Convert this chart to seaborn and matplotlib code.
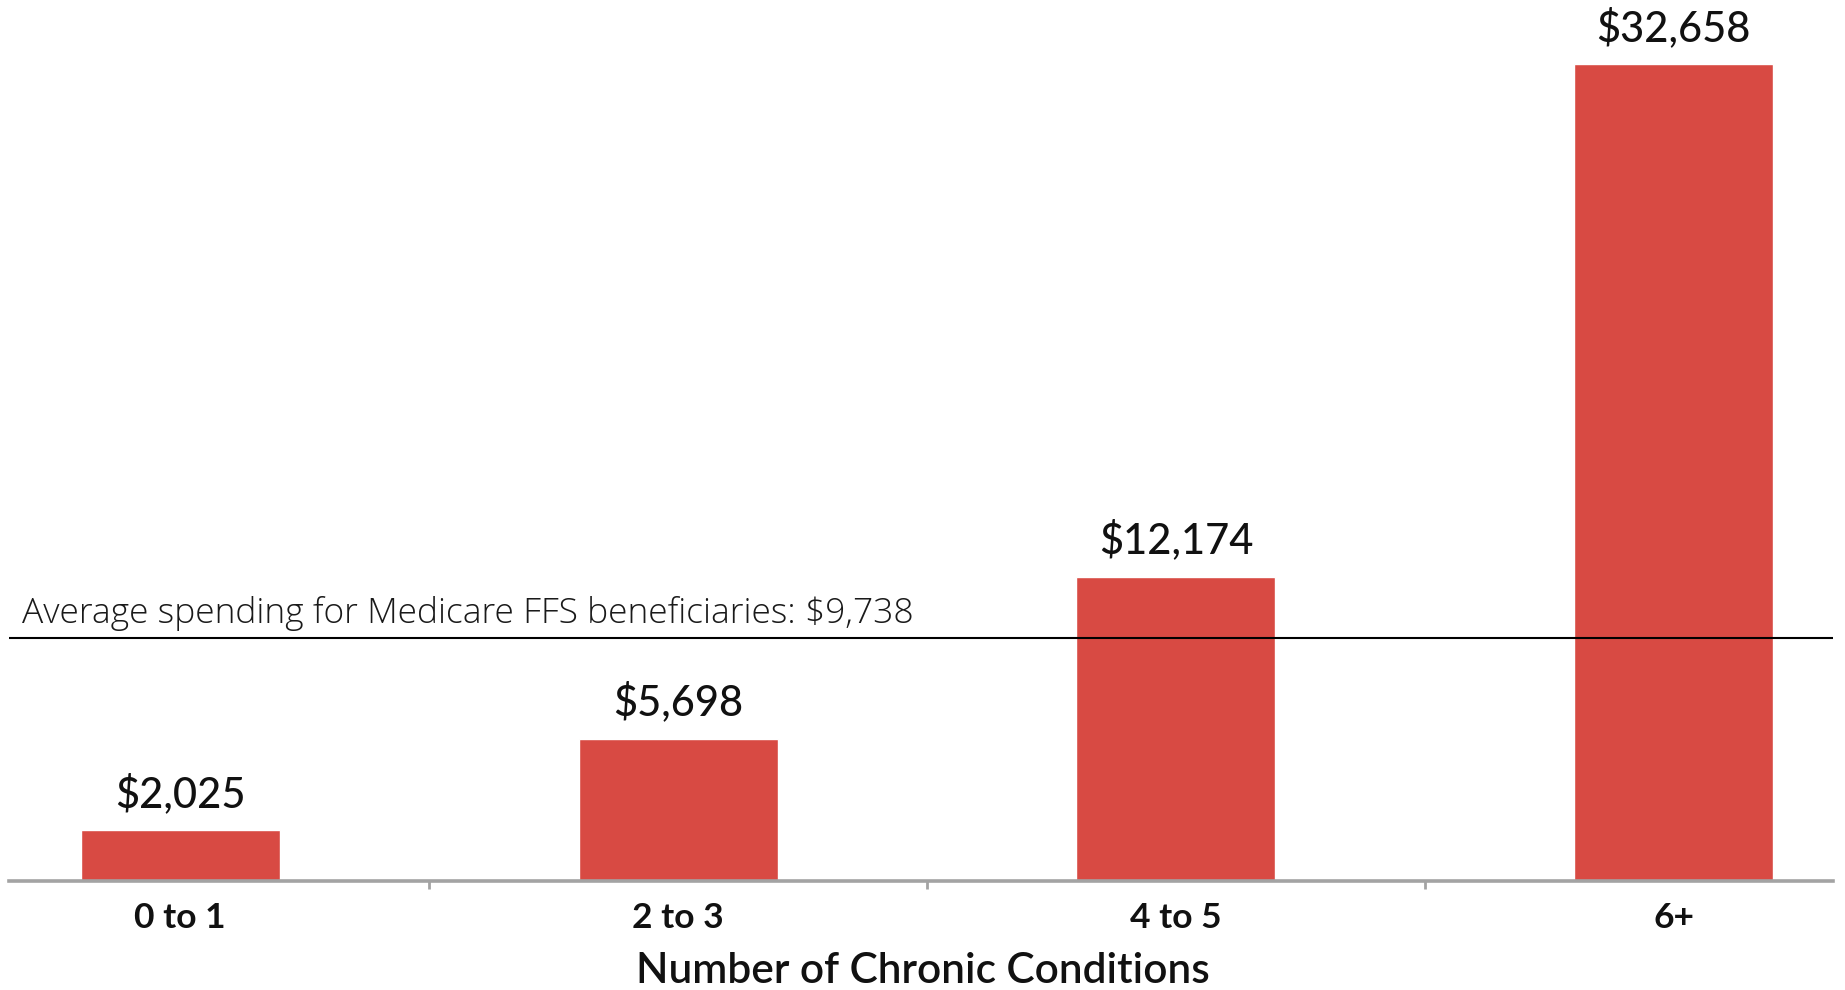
import matplotlib
matplotlib.use("Agg")
import matplotlib.pyplot as plt
import seaborn as sns
import pandas as pd

# Medicare FFS spending per beneficiary by number of chronic conditions
categories = ["0 to 1", "2 to 3", "4 to 5", "6+"]
spending = [2025, 5698, 12174, 32658]
average_spending = 9738
average_label = "Average spending for Medicare FFS beneficiaries: $9,738"
x_title = "Number of Chronic Conditions"

sns.set_theme(style="white")
plt.rcParams["font.family"] = ["Lato", "DejaVu Sans"]

df = pd.DataFrame({"conditions": categories, "spending": spending})

fig = plt.figure(figsize=(18.45, 9.9), dpi=100)
ax = fig.add_axes([0.0049, 0.110, 0.9886, 0.890])

bar_color = "#D84A43"
sns.barplot(data=df, x="conditions", y="spending", color=bar_color,
            width=0.4, saturation=1, ax=ax)

ax.set_xlim(-0.344, 3.32)
ax.set_ylim(0, 35230)

# value labels above bars
for i, v in enumerate(spending):
    ax.annotate(f"${v:,}", xy=(i, v), xytext=(0, 17), textcoords="offset points",
                ha="center", va="baseline", fontsize=30, fontweight="medium",
                color="#111111")

# average reference line
ax.axhline(average_spending, color="black", lw=1.5, zorder=3)
ax.annotate(average_label, xy=(0, average_spending), xycoords=("axes fraction", "data"),
            xytext=(9, 5), textcoords="offset points", ha="left", va="bottom",
            fontsize=25.5, fontweight="light", color="#1a1a1a",
            family=["Open Sans", "DejaVu Sans"])

# axes styling
for s in ["top", "right", "left"]:
    ax.spines[s].set_visible(False)
ax.spines["bottom"].set_color("#A3A3A3")
ax.spines["bottom"].set_linewidth(2.6)
ax.set_yticks([])
ax.set_ylabel("")

ax.set_xticks(range(len(categories)))
ax.set_xticklabels(categories, fontsize=25.5, fontweight="bold", color="#111111")
ax.set_xticks([0.5, 1.5, 2.5], minor=True)
ax.tick_params(axis="x", which="major", length=0, pad=15)
ax.tick_params(axis="x", which="minor", bottom=True, length=6, width=2, color="#A3A3A3",
               direction="out")

ax.set_xlabel("")
fig.text(0.5, 0.007, x_title, ha="center", va="baseline", fontsize=30.5,
         fontweight="semibold", color="#111111")

fig.savefig("out.png", dpi=100)
